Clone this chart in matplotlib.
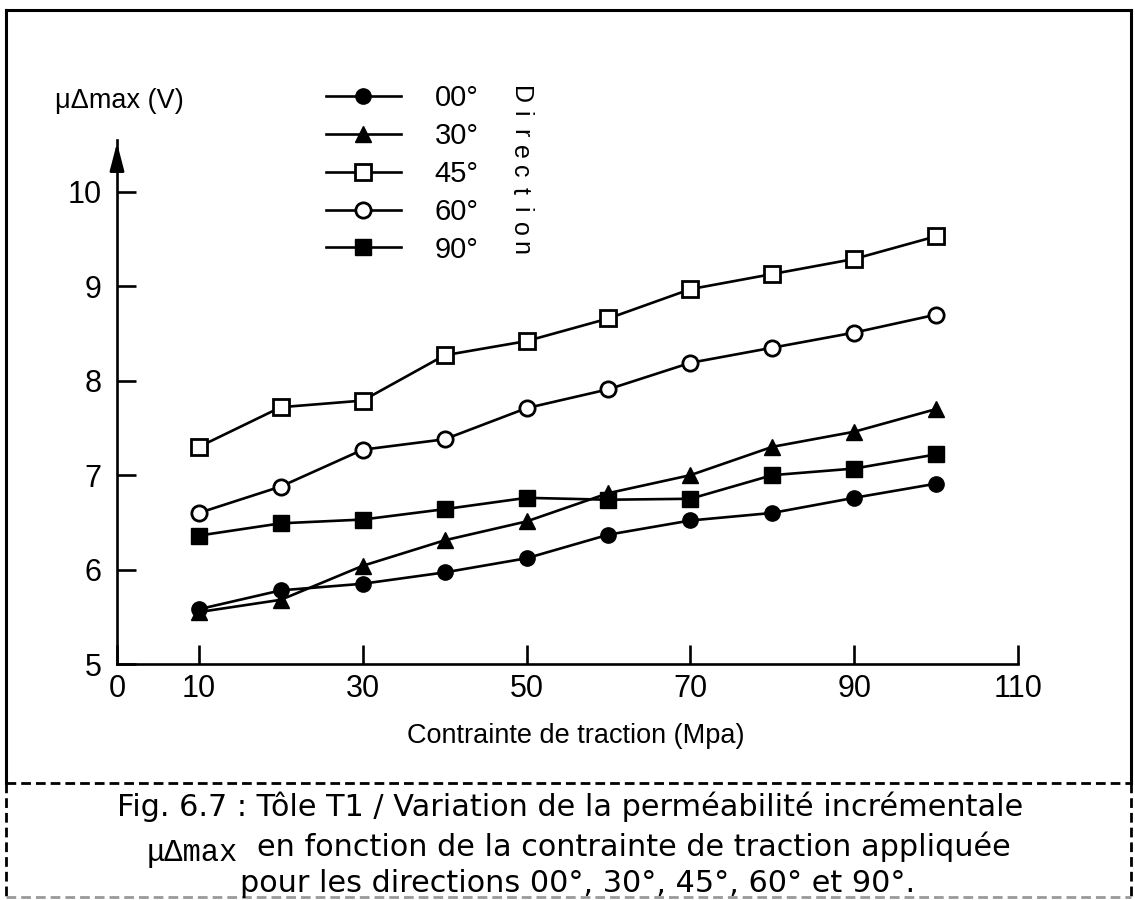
import matplotlib.pyplot as plt
from matplotlib.lines import Line2D

plt.rcParams['font.family'] = ['Liberation Sans', 'DejaVu Sans']

# data
contrainte = [10, 20, 30, 40, 50, 60, 70, 80, 90, 100]
dir_00 = [5.58, 5.78, 5.85, 5.97, 6.12, 6.37, 6.52, 6.60, 6.76, 6.91]
dir_30 = [5.55, 5.68, 6.04, 6.31, 6.51, 6.81, 7.00, 7.30, 7.46, 7.70]
dir_45 = [7.30, 7.72, 7.79, 8.27, 8.42, 8.66, 8.97, 9.13, 9.29, 9.53]
dir_60 = [6.60, 6.88, 7.27, 7.38, 7.71, 7.91, 8.19, 8.35, 8.51, 8.70]
dir_90 = [6.36, 6.49, 6.53, 6.64, 6.76, 6.74, 6.75, 7.00, 7.07, 7.22]
labels = ['00°', '30°', '45°', '60°', '90°']
x_ticks = [0, 10, 30, 50, 70, 90, 110]
y_ticks = [5, 6, 7, 8, 9, 10]

W, H = 1135, 900


def fx(x):
    return x / W


def fy(y):
    return 1 - y / H


fig = plt.figure(figsize=(W / 100, H / 100), dpi=100)
ax = fig.add_axes([fx(117), fy(664), fx(1018) - fx(117), fy(140) - fy(664)])

lw = 1.9
ax.plot(contrainte, dir_00, '-o', color='k', lw=lw, ms=11, label=labels[0])
ax.plot(contrainte, dir_30, '-^', color='k', lw=lw, ms=12, label=labels[1])
ax.plot(contrainte, dir_45, '-s', color='k', mfc='white', mew=2, lw=lw, ms=11, label=labels[2])
ax.plot(contrainte, dir_60, '-o', color='k', mfc='white', mew=2, lw=lw, ms=11, label=labels[3])
ax.plot(contrainte, dir_90, '-s', color='k', lw=lw, ms=11.5, label=labels[4])

ax.set_xlim(0, 110)
ax.set_ylim(5, 10.55)
ax.set_xticks(x_ticks)
ax.set_yticks(y_ticks)
ax.tick_params(direction='in', length=14, width=1.9, labelsize=22)
ax.tick_params(axis='y', pad=11)
ax.tick_params(axis='x', pad=7)

ax.spines['top'].set_visible(False)
ax.spines['right'].set_visible(False)
ax.spines['left'].set_linewidth(1.9)
ax.spines['bottom'].set_linewidth(1.9)

# arrow head at top of y axis
ax.annotate('', xy=(0, 10.55), xytext=(0, 10.3),
            arrowprops=dict(arrowstyle='-|>,head_length=0.85,head_width=0.22',
                            color='k', lw=1.9, mutation_scale=20),
            annotation_clip=False)

ax.set_xlabel('Contrainte de traction (Mpa)', fontsize=19.5)
ax.xaxis.set_label_coords(0.509, -0.113)
fig.text(fx(55), fy(101), 'μΔmax (V)', fontsize=19.5, va='center', ha='left')

leg = ax.legend(loc='upper left', bbox_to_anchor=(fx(326), fy(84)),
                bbox_transform=fig.transFigure, frameon=False, fontsize=21,
                handlelength=2.57, handletextpad=1.16, labelspacing=0.34,
                borderpad=0, borderaxespad=0)

# vertical "Direction" with evenly spaced letters
for i, ch in enumerate('Direction'):
    fig.text(fx(520), fy(95 + i * 19.1), ch, fontsize=18, rotation=-90,
             ha='center', va='center')

# frame around figure and caption
solid = dict(color='k', lw=2.2, transform=fig.transFigure)
fig.add_artist(Line2D([fx(6), fx(1131)], [fy(10), fy(10)], **solid))
fig.add_artist(Line2D([fx(6), fx(6)], [fy(10), fy(783)], **solid))
fig.add_artist(Line2D([fx(1131), fx(1131)], [fy(10), fy(783)], **solid))
dashed = dict(color='k', lw=2, ls=(0, (3.5, 1.8)), transform=fig.transFigure)
fig.add_artist(Line2D([fx(6), fx(1131)], [fy(783), fy(783)], **dashed))
fig.add_artist(Line2D([fx(6), fx(6)], [fy(783), fy(897)], **dashed))
fig.add_artist(Line2D([fx(1131), fx(1131)], [fy(783), fy(897)], **dashed))
fig.add_artist(Line2D([fx(6), fx(1131)], [fy(897), fy(897)], color='0.6', lw=2,
                      ls=(0, (3.5, 1.8)), transform=fig.transFigure))

# caption
cap = dict(fontsize=21.8, family=['DejaVu Sans'])
fig.text(fx(117), fy(807), 'Fig. 6.7 : Tôle T1 / Variation de la perméabilité incrémentale',
         ha='left', va='center', **cap)
fig.text(fx(238), fy(853), 'μΔmax', fontsize=22, ha='right', va='center',
         family=['Liberation Mono', 'DejaVu Sans Mono'])
fig.text(fx(257), fy(847), 'en fonction de la contrainte de traction appliquée',
         ha='left', va='center', **cap)
fig.text(fx(240), fy(883), 'pour les directions 00°, 30°, 45°, 60° et 90°.',
         ha='left', va='center', **cap)

fig.savefig('out.png', dpi=100)
